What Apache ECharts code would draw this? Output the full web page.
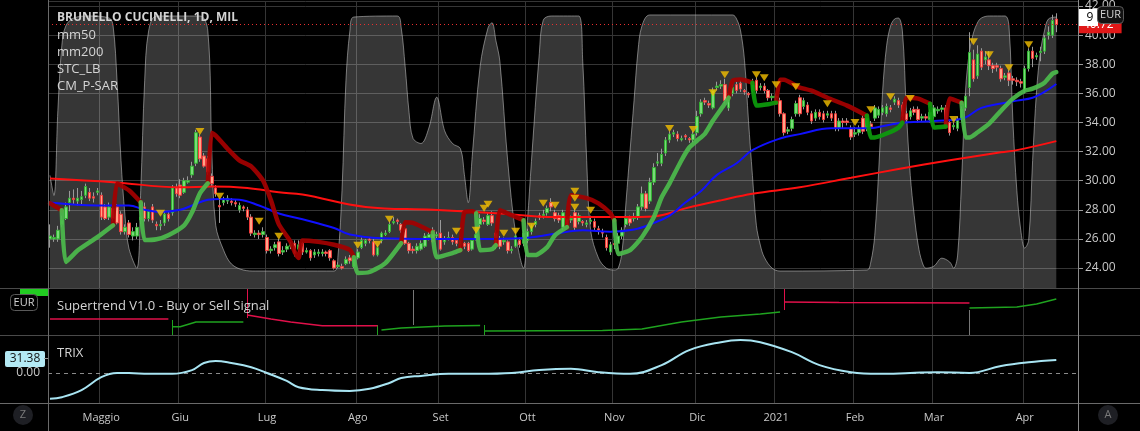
<!DOCTYPE html>
<html><head><meta charset="utf-8">
<script src="https://cdn.jsdelivr.net/npm/echarts@6.0.0/dist/echarts.min.js"></script>
<style>html,body{margin:0;padding:0;background:#000;}#c{width:1140px;height:431px;}</style>
</head><body><div id="c"></div><script>
// ---------- categories ----------
const startDate = '2020-04-14';
const barCount = 256;
const padBars = 5;
const holidays = ['2020-05-01','2020-12-24','2020-12-25','2020-12-31','2021-01-01','2021-04-02','2021-04-05'];
const monthLabels = {'2020-05':'Maggio','2020-06':'Giu','2020-07':'Lug','2020-08':'Ago','2020-09':'Set','2020-10':'Ott','2020-11':'Nov','2020-12':'Dic','2021-01':'2021','2021-02':'Feb','2021-03':'Mar','2021-04':'Apr'};
const priceTicks = [24,26,28,30,32,34,36,38,40,42];

// ---------- candles [open, close, low, high] ----------
const candlesApr2020 = [[26.0,26.2,25.4,27.0],[26.0,26.1,25.8,26.3],[26.0,26.6,25.8,26.9],[27.0,27.3,26.8,27.6],[27.4,28.2,27.3,28.5],[28.5,28.8,27.9,29.3],[28.8,28.7,28.4,29.4],[28.6,28.8,28.3,29.5],[28.7,28.9,28.4,29.3],[29.0,29.6,28.8,29.8],[29.2,28.8,28.6,29.5],[28.9,28.8,28.5,29.2],[29.2,29.3,29.0,29.5]];
const candlesMay2020 = [[29.0,27.5,27.3,29.2],[28.2,27.4,27.3,28.4],[27.5,28.2,27.3,28.5],[28.1,27.4,27.2,28.3],[28.2,27.1,27.0,28.4],[27.7,26.5,26.3,27.9],[26.5,26.8,26.3,27.0],[27.1,26.3,26.1,27.3],[26.2,26.5,25.9,26.8],[26.2,26.8,26.0,27.1],[27.3,27.5,27.0,27.8],[28.2,27.4,27.2,28.5],[27.4,27.9,27.2,28.0],[28.2,27.3,27.1,28.4],[27.0,26.9,26.6,27.2],[26.9,27.0,26.6,27.3],[27.1,27.7,26.9,27.9],[27.7,27.4,27.2,27.9],[27.8,29.5,27.6,29.7],[29.5,29.1,28.9,29.8]];
const candlesJun2020 = [[29.7,29.0,28.8,30.1],[29.2,30.0,29.1,30.2],[29.9,30.0,29.8,30.3],[30.4,31.0,30.2,31.3],[31.2,33.3,31.0,33.5],[33.0,31.5,31.3,33.2],[31.7,31.0,30.9,31.9],[31.5,30.6,30.4,31.7],[30.3,29.8,29.6,30.5],[29.5,29.1,28.9,29.7],[28.3,28.2,27.1,28.8],[28.5,28.7,28.3,28.9],[28.6,28.8,28.4,29.0],[28.6,28.5,28.3,28.8],[28.5,28.4,28.2,28.7],[28.0,28.3,27.8,28.5],[28.2,28.1,27.9,28.3],[28.0,27.5,27.3,28.2],[27.5,26.4,26.2,27.7],[26.3,26.4,26.1,26.6],[26.4,26.3,26.0,26.6],[26.3,26.5,26.1,26.8]];
const candlesJul2020 = [[26.1,25.2,25.0,26.3],[25.2,25.3,25.0,25.5],[25.4,25.6,25.2,25.8],[25.8,25.0,24.8,26.0],[25.1,25.2,24.9,25.5],[25.3,25.5,25.1,25.7],[25.5,25.6,25.3,25.8],[25.7,25.0,24.8,25.9],[25.3,25.6,25.1,25.9],[25.7,25.1,24.9,25.8],[25.1,25.2,25.0,25.4],[25.2,24.7,24.5,25.3],[24.9,25.1,24.7,25.3],[25.0,25.1,24.8,25.3],[25.0,25.1,24.8,25.3],[25.1,25.0,24.8,25.2],[25.2,24.7,24.5,25.3],[24.5,24.0,23.9,24.6],[24.1,24.2,24.0,24.4],[24.1,24.0,23.9,24.3],[24.3,24.6,24.2,24.8],[24.7,24.5,24.3,24.9],[24.1,24.7,24.0,24.9]];
const candlesAug2020 = [[24.7,25.1,24.6,25.3],[25.4,25.9,25.3,26.1],[25.7,25.9,25.5,26.0],[26.0,25.9,25.7,26.1],[25.8,24.9,24.8,26.0],[24.9,25.4,24.8,25.6],[25.9,26.4,25.7,26.5],[26.3,26.4,26.2,26.6],[26.5,27.0,26.4,27.2],[27.1,27.2,27.0,27.5],[27.3,27.2,27.0,27.4],[27.0,26.6,26.4,27.1],[26.7,25.7,25.6,26.8],[25.7,25.2,25.0,25.8],[25.3,25.2,25.0,25.5],[25.2,25.5,25.0,25.7],[25.3,25.7,25.2,25.9],[25.5,26.2,25.4,26.4],[26.1,26.3,25.9,26.5],[26.6,25.8,25.7,26.8],[26.2,26.3,26.0,26.5]];
const candlesSep2020 = [[26.4,25.3,25.2,27.3],[25.8,26.0,25.6,26.2],[26.0,26.1,25.9,26.5],[26.1,25.8,25.6,26.3],[25.9,25.7,25.5,26.0],[25.6,25.9,25.4,26.1],[25.7,25.5,25.3,25.8],[25.7,25.2,25.1,25.8],[25.3,25.9,25.2,26.0],[26.0,26.3,25.9,26.5],[27.0,27.4,26.8,27.7],[27.3,27.2,27.0,27.5],[27.0,27.6,26.9,27.8],[27.6,27.1,26.9,27.9],[26.4,25.5,25.3,26.6],[26.0,25.5,25.3,26.2],[25.8,25.9,25.6,26.1],[25.8,25.2,25.0,25.9],[25.2,25.3,25.0,25.5],[25.5,26.2,25.4,26.3],[25.9,25.6,25.4,26.1],[25.7,26.4,25.5,26.6]];
const candlesOct2020 = [[25.9,26.5,25.7,26.7],[26.5,26.9,26.3,27.0],[27.0,27.2,26.8,27.4],[27.6,27.5,27.3,27.8],[27.6,27.7,27.4,28.0],[27.8,28.1,27.6,28.3],[28.5,28.2,27.9,28.8],[27.8,27.4,27.2,28.0],[27.6,27.3,27.1,27.8],[26.8,27.8,26.6,28.0],[27.4,27.0,26.8,27.6],[27.3,27.4,27.1,27.6],[27.8,26.8,26.6,28.1],[27.2,27.6,27.0,27.8],[27.2,27.1,26.9,27.3],[27.0,27.1,26.8,27.3],[27.2,27.3,27.0,27.6],[27.2,26.8,26.6,27.4],[26.7,26.6,26.3,26.9],[26.5,26.4,26.1,26.7],[26.1,25.4,25.2,26.3],[25.1,25.6,24.9,25.8]];
const candlesNov2020 = [[25.7,25.6,25.3,25.9],[25.7,26.2,25.3,26.4],[26.2,26.6,26.0,26.8],[27.0,27.4,26.8,27.6],[27.4,27.1,26.9,27.6],[27.4,27.5,27.2,27.8],[27.5,28.2,27.3,28.4],[28.2,29.1,28.0,29.6],[29.1,28.1,27.9,29.3],[28.6,29.9,28.4,30.2],[29.9,30.9,29.7,31.2],[31.2,31.3,31.0,31.9],[31.2,31.8,31.0,32.2],[31.9,32.8,31.7,33.0],[32.8,33.2,32.6,33.4],[33.2,33.3,33.0,33.5],[33.2,32.9,32.7,33.4],[32.8,32.9,32.7,33.1],[33.1,33.0,32.8,33.2],[32.9,32.8,32.6,33.0],[32.8,33.2,32.6,33.4]];
const candlesDec2020 = [[33.3,34.4,33.1,34.8],[34.6,35.4,34.4,35.6],[35.5,35.4,35.2,35.7],[35.3,35.2,35.0,35.5],[35.0,36.2,34.9,36.4],[36.4,36.5,36.2,36.8],[36.5,36.6,36.3,36.9],[36.6,35.5,35.3,37.0],[35.0,35.8,34.8,36.0],[36.0,36.4,35.8,36.6],[36.6,36.2,36.0,36.8],[36.7,36.3,36.1,36.9],[36.2,36.1,35.9,36.3],[36.0,35.9,35.7,36.1],[36.2,36.8,36.0,37.0],[36.9,36.2,36.0,37.1],[36.4,36.5,36.2,36.7],[36.5,36.2,36.0,36.7],[36.2,35.7,35.5,36.3],[35.7,35.8,35.5,36.0]];
const candlesJan2021 = [[35.7,35.8,35.5,36.0],[35.5,34.6,34.4,35.7],[34.6,33.3,33.1,34.7],[33.4,33.5,33.2,33.7],[33.6,34.2,33.4,34.4],[34.6,35.3,34.4,35.5],[35.7,34.6,34.4,35.9],[35.1,35.5,34.9,35.7],[35.2,34.7,34.5,35.4],[34.6,34.1,33.9,34.8],[34.3,34.7,34.1,34.9],[34.7,34.4,34.2,34.9],[34.6,34.2,34.0,34.8],[34.5,34.6,34.3,34.8],[34.6,34.3,34.1,34.8],[34.6,33.6,33.4,34.8],[33.6,34.1,33.4,34.3],[34.1,34.0,33.6,34.3],[34.1,34.0,33.8,34.3],[33.6,33.0,32.8,33.8]];
const candlesFeb2021 = [[33.2,33.3,33.0,33.7],[33.3,33.6,33.1,33.8],[34.3,33.4,33.2,34.5],[33.6,34.3,33.4,34.5],[33.9,33.7,33.5,34.1],[34.3,35.0,34.1,35.2],[34.5,34.9,34.3,35.1],[34.7,35.0,34.5,35.2],[34.6,35.1,34.4,35.3],[35.0,34.9,34.7,35.2],[35.4,35.6,35.2,35.8],[35.5,35.2,35.0,35.7],[35.2,34.4,34.2,35.4],[34.6,34.2,34.0,34.8],[34.4,34.8,34.2,35.0],[34.9,34.7,34.5,35.1],[34.9,34.2,34.0,35.1],[34.3,34.4,34.1,34.6],[34.4,34.3,34.1,34.6],[34.2,34.7,34.0,34.9]];
const candlesMar2021 = [[34.4,35.0,34.2,35.2],[34.8,34.9,34.6,35.1],[34.9,35.0,34.7,35.2],[35.0,33.8,33.6,35.2],[34.0,33.3,33.1,34.2],[33.7,33.8,33.5,34.0],[33.6,34.2,33.4,34.4],[34.3,34.9,34.1,35.1],[35.0,35.8,34.8,36.0],[36.4,38.8,35.8,40.2],[38.3,37.0,36.8,39.0],[37.2,38.7,37.0,39.3],[38.9,37.8,37.6,39.1],[38.3,38.5,38.0,38.9],[38.3,37.9,37.6,38.9],[37.9,37.7,37.4,38.1],[37.9,37.8,37.5,38.1],[37.7,37.0,36.8,37.9],[37.1,37.2,36.9,37.4],[37.4,36.9,36.5,37.6],[37.0,36.9,36.6,37.2],[36.9,36.8,36.5,37.1],[36.8,36.7,36.4,37.0]];
const candlesApr2021 = [[36.2,37.7,36.0,37.9],[37.7,38.9,37.5,39.1],[38.9,38.4,37.8,39.2],[38.5,38.6,38.3,38.8],[38.8,38.9,38.2,39.2],[38.9,39.8,38.7,40.0],[40.0,40.2,39.7,40.6],[40.0,41.0,39.8,41.4],[41.1,40.72,40.2,41.5]];

// ---------- moving averages [barIndex, value] ----------
const mm50 = [[0,28.5],[12,28.3],[20,28.3],[24,28.0],[28,27.85],[33,28.0],[36,28.3],[40,28.7],[43,28.75],[48,28.7],[53,28.3],[58,27.75],[64,27.35],[72,26.75],[76,26.3],[84,26.05],[97,26.0],[110,26.0],[119,26.05],[128,26.35],[135,26.6],[142,26.5],[148,26.65],[153,27.1],[157,27.6],[161,28.5],[165,29.3],[169,30.4],[174,31.2],[178,32.1],[185,32.9],[190,33.2],[198,33.6],[207,33.6],[215,33.95],[224,34.1],[231,34.25],[236,35.0],[241,35.3],[245,35.5],[249,35.7],[252,36.1],[255,36.64]];
const mm200 = [[0,30.15],[16,29.9],[33,29.55],[41,29.6],[50,29.5],[58,29.2],[64,29.05],[80,28.2],[97,28.0],[114,27.75],[128,27.5],[145,27.5],[153,27.55],[161,28.1],[170,28.65],[178,29.1],[190,29.55],[203,30.2],[215,30.8],[228,31.4],[241,31.95],[245,32.1],[255,32.72]];

// ---------- STC_LB oscillator (0..100) ----------
const stc = [[0,37.6],[1,29.8],[2,62.8],[3,88],[4,95.7],[6,98.8],[10,99.6],[15,98.8],[16,95.7],[17,74.4],[18,43.4],[19,22.1],[20,9.3],[22,1.5],[23,31.8],[24,74.4],[25,93.8],[27,99.6],[38,99.6],[40,93.8],[41,47.3],[42,18.2],[44,8.5],[46,3.1],[49,0.8],[52,0.4],[72,0.4],[73,6.6],[74,31.8],[75,74.4],[76,93.8],[77,99.2],[88,99.6],[89,95],[90,80],[91,62],[92,52],[94,50],[96,56],[98,68],[100,55],[102,50],[104,48],[105,38],[106,27],[107,45],[109,80],[111,95],[112,97],[113,90],[114,82],[116,43],[118,15],[120,1.5],[121,20],[122,43],[124,85],[125,98],[127,99.6],[134,99.6],[135,82],[136,43.4],[137,16.3],[139,5.4],[141,1.5],[143,0.8],[144,1.5],[145,8.5],[146,27.9],[147,47.3],[148,66.7],[149,86],[150,95.7],[152,100],[173,100],[174,98.4],[175,93.8],[176,82.2],[177,58.9],[178,37.6],[179,18.2],[180,10.5],[181,5.8],[183,1.5],[185,0.4],[207,0.8],[208,3.9],[209,14.3],[210,39.5],[211,70.5],[212,88],[213,95.7],[214,98.4],[215,98.8],[216,93.8],[217,62.8],[218,37.6],[219,22.1],[220,10.5],[221,3.9],[222,1.5],[224,2.3],[226,5.4],[228,3.9],[229,1.5],[230,6.6],[231,35.7],[232,70.5],[233,86],[234,93],[235,96.9],[236,98.8],[238,99.6],[242,99.6],[243,95.7],[244,58.9],[245,31.8],[246,16.3],[247,9.3],[248,12.4],[249,43.4],[250,70.5],[251,86],[252,93.8],[253,98.4],[255,99.2]];

// ---------- CM_P-SAR trailing line segments ----------
const trailDown = [
 [[0,28.45],[3,27.97]],
 [[16,26.94],[17,29.8],[20,29.34],[23,28.52]],
 [[40,29.82],[41,33.3],[42,33.1],[45,32.2],[48,31.4],[51,30.98],[54,30.0],[56,28.65],[58,27.0],[61,25.8],[62,25.1],[63,24.7],[64,25.9],[68,25.8],[72,25.6],[76,25.25],[77,24.75]],
 [[89,25.7],[90,27.15],[92,27.1],[96,26.6],[97,26.46]],
 [[104,25.23],[105,27.83],[107,27.9],[108,27.76]],
 [[113,25.57],[114,27.97],[117,27.63],[120,27.29]],
 [[131,26.81],[132,29.0],[136,28.8],[139,28.45],[142,27.76],[143,27.29]],
 [[172,35.7],[173,36.87],[175,36.95],[178,36.73]],
 [[184,35.36],[185,36.94],[186,36.94],[189,36.53],[190,36.4],[193,36.18],[197,35.7],[202,35.16],[207,34.47]],
 [[216,33.99],[217,35.7],[220,35.64],[223,35.29]],
 [[227,33.72],[228,35.64],[231,35.36]]
];
const trailUp = [
 [[3,27.97],[4,24.41],[7,25.2],[12,26.12],[16,26.94]],
 [[23,28.52],[24,25.92],[27,25.98],[30,26.26],[34,26.94],[36,27.83],[38,29.13],[40,29.82]],
 [[77,24.75],[78,23.66],[81,23.73],[85,24.34],[89,25.71]],
 [[97,26.46],[98,24.75],[102,25.03],[104,25.23]],
 [[108,27.76],[109,25.23],[112,25.3],[113,25.57]],
 [[120,27.29],[121,24.89],[123,24.89],[126,25.44],[128,26.26],[131,26.81]],
 [[143,27.29],[144,24.96],[147,25.23],[150,26.12],[153,27.49],[155,28.86],[157,29.82],[160,31.39],[162,32.28],[164,32.76],[166,33.24],[168,34.13],[171,35.29],[172,35.7]],
 [[178,36.73],[179,35.16],[182,35.25],[184,35.36]],
 [[207,34.47],[208,32.97],[209,32.97],[212,33.24],[215,33.65],[216,33.99]],
 [[223,35.29],[224,33.65],[227,33.72]],
 [[231,35.36],[232,32.97],[233,32.97],[235,33.31],[238,33.92],[241,34.81],[244,35.64],[247,36.18],[249,36.32],[252,36.73],[254,37.35],[255,37.46]]
];
const trailUpDark = [false,false,false,false,false,false,false,true,true,true,false];
const sarSignals = [[28,27.76],[38,33.38],[43,28.93],[53,27.22],[58,26.19],[78,25.57],[83,25.64],[86,27.35],[103,26.53],[108,26.6],[110,28.1],[111,28.38],[115,26.4],[118,26.53],[122,26.87],[125,28.45],[128,28.31],[133,29.27],[133,28.79],[133,28.18],[137,27.97],[157,33.58],[163,33.51],[168,36.05],[171,37.28],[179,37.28],[181,37.07],[184,36.59],[189,36.46],[197,35.29],[204,33.99],[208,34.88],[213,35.77],[218,35.64],[229,34.2],[234,39.54],[238,38.65],[243,37.76],[248,39.33]];

// ---------- Supertrend pane ----------
const stSell = [
 [[0,16],[30,16]],
 [[50,20],[56,16],[61,13],[69,9.3],[83,9.3]],
 [[186,33],[200,32.5],[233,32]]
];
const stBuy = [
 [[31,8.3],[33,8.3],[37,13],[49,13]],
 [[84,5],[89,7],[100,9],[109,9.5]],
 [[110,4],[140,4.5],[150,6],[160,13],[170,18],[180,21],[185,23]],
 [[233,27],[245,28],[250,31],[255,36]]
];
const stMarks = [[31,0,15,'#1fa31f'],[50,17,47,'#e0104a'],[83,0,10,'#1fa31f'],[92,10,45,'#777777'],[110,0,10,'#1fa31f'],[186,25,47,'#e0104a'],[233,0,25,'#777777']];

// ---------- TRIX ----------
const trix = [[0,-62],[3,-58],[8,-41],[13,-10],[17,0],[20,0],[25,-2],[31,-2],[36,7],[39,24],[42,29],[46,24],[51,14],[55,0],[60,-19],[63,-34],[69,-41],[76,-43],[81,-38],[86,-24],[89,-12],[94,-7],[101,-2],[109,-2],[117,0],[124,7],[132,10],[139,2],[147,-2],[155,19],[162,55],[170,74],[175,79],[180,74],[188,50],[195,19],[203,2],[210,-2],[218,0],[225,2],[233,0],[241,17],[248,26],[255,31.38]];

// ---------- build ----------
const holidaySet = new Set(holidays);
function buildDates(start, n) {
  const out = [];
  const d = new Date(start + 'T00:00:00Z');
  while (out.length < n) {
    const wd = d.getUTCDay();
    const s = d.toISOString().slice(0, 10);
    if (wd !== 0 && wd !== 6 && !holidaySet.has(s)) out.push(s);
    d.setUTCDate(d.getUTCDate() + 1);
  }
  return out;
}
const dates = buildDates(startDate, barCount + padBars);
const candles = [].concat(candlesApr2020, candlesMay2020, candlesJun2020, candlesJul2020, candlesAug2020, candlesSep2020, candlesOct2020, candlesNov2020, candlesDec2020, candlesJan2021, candlesFeb2021, candlesMar2021, candlesApr2021);
const bodies = candles.map(c => [c[0], c[1], Math.min(c[0], c[1]), Math.max(c[0], c[1])]);
const isMonthStart = (idx) => idx > 0 && dates[idx].slice(0, 7) !== dates[idx - 1].slice(0, 7);
const lastClose = candles[candles.length - 1][1];

const FONT = 'Open Sans';
const GRID_C = '#353535';
const SEP_C = '#4a4a4a';

function xAxisFor(gridIndex, showLabels) {
  return {
    type: 'category', gridIndex, data: dates, boundaryGap: true,
    axisLine: {show: false}, axisTick: {show: false},
    axisLabel: showLabels ? {
      show: true, interval: (i) => isMonthStart(i), color: '#c8c8c8', fontSize: 11, fontFamily: FONT, margin: 9,
      formatter: (v) => monthLabels[v.slice(0, 7)] || ''
    } : {show: false},
    splitLine: {show: true, interval: (i) => isMonthStart(i), lineStyle: {color: GRID_C, width: 1}}
  };
}

const series = [];
series.push({
  name: 'STC_LB', type: 'line', xAxisIndex: 0, yAxisIndex: 1, data: stc, smooth: 0.35, symbol: 'none',
  lineStyle: {color: 'rgba(200,200,200,0.55)', width: 1},
  areaStyle: {color: 'rgba(255,255,255,0.3)', origin: 'start'}, z: 1, silent: true
});
series.push({
  name: 'wicks', type: 'candlestick', xAxisIndex: 0, yAxisIndex: 0, data: candles, barWidth: 1,
  itemStyle: {color: '#9a9a9a', color0: '#9a9a9a', borderColor: '#9a9a9a', borderColor0: '#9a9a9a', borderWidth: 1}, z: 3
});
series.push({
  name: 'BRUNELLO CUCINELLI', type: 'candlestick', xAxisIndex: 0, yAxisIndex: 0, data: bodies, barWidth: 3,
  itemStyle: {color: '#78dc78', color0: '#ffa488', borderColor: '#33b033', borderColor0: '#ee3b3b', borderWidth: 1}, z: 4,
  markLine: {
    silent: true, symbol: 'none', animation: false,
    lineStyle: {color: '#e83030', type: [1, 3], width: 1},
    label: {position: 'end', distance: 1, formatter: () => lastClose.toFixed(2), backgroundColor: '#e01818', color: '#fff', padding: [3, 8, 2, 4], fontSize: 12, fontFamily: FONT},
    data: [{yAxis: lastClose}]
  }
});
function tagLine(value, bg, fg) {
  return {
    silent: true, symbol: 'none', animation: false,
    lineStyle: {opacity: 0},
    label: {position: 'end', distance: 1, formatter: () => value.toFixed(2), backgroundColor: bg, color: fg, padding: [2, 4, 1, 4], fontSize: 12, fontFamily: FONT, borderRadius: 2},
    data: [{yAxis: value}]
  };
}
series.push({name: 'mm200', type: 'line', xAxisIndex: 0, yAxisIndex: 0, data: mm200, smooth: 0.4, symbol: 'none', lineStyle: {color: '#ff1010', width: 2}, z: 5, markLine: tagLine(mm200[mm200.length - 1][1], '#ff0000', '#ffffff')});
series.push({name: 'mm50', type: 'line', xAxisIndex: 0, yAxisIndex: 0, data: mm50, smooth: 0.4, symbol: 'none', lineStyle: {color: '#1010ff', width: 2}, z: 6, markLine: tagLine(mm50[mm50.length - 1][1], '#0000ff', '#ffffff')});
trailDown.forEach((seg) => series.push({type: 'line', xAxisIndex: 0, yAxisIndex: 0, data: seg, symbol: 'none', smooth: 0.2, lineStyle: {color: '#a40000', width: 4.5, cap: 'round', join: 'round', opacity: 0.92}, z: 7}));
trailUp.forEach((seg, k) => {
  const last = k === trailUp.length - 1;
  series.push({type: 'line', xAxisIndex: 0, yAxisIndex: 0, data: seg, symbol: 'none', smooth: 0.2,
    lineStyle: {color: trailUpDark[k] ? '#0c9c0c' : '#4cbb4c', width: 4.5, cap: 'round', join: 'round', opacity: 0.92}, z: 7,
    markLine: last ? tagLine(seg[seg.length - 1][1], '#00ff00', '#000000') : undefined});
});
series.push({name: 'signals', type: 'scatter', xAxisIndex: 0, yAxisIndex: 0, data: sarSignals, symbol: 'triangle', symbolRotate: 180, symbolSize: [9, 7], itemStyle: {color: '#f5c000'}, z: 8});

stSell.forEach((seg) => series.push({type: 'line', xAxisIndex: 1, yAxisIndex: 2, data: seg, symbol: 'none', lineStyle: {color: '#e0104a', width: 1.5}, z: 5}));
stBuy.forEach((seg) => series.push({type: 'line', xAxisIndex: 1, yAxisIndex: 2, data: seg, symbol: 'none', lineStyle: {color: '#1fa31f', width: 1.5}, z: 5}));
series.push({type: 'line', xAxisIndex: 1, yAxisIndex: 2, data: [], symbol: 'none',
  markLine: {silent: true, symbol: 'none', animation: false, label: {show: false},
    data: stMarks.map(m => [{coord: [m[0], m[1]], lineStyle: {color: m[3], width: 1, type: 'solid'}}, {coord: [m[0], m[2]]}])}});

series.push({name: 'TRIX', type: 'line', xAxisIndex: 2, yAxisIndex: 3, data: trix, smooth: 0.4, symbol: 'none', lineStyle: {color: '#a8e4f2', width: 2}, z: 5,
  markLine: {silent: true, symbol: 'none', animation: false, label: {show: false}, lineStyle: {color: '#8a8a8a', type: [4, 4], width: 1}, data: [{yAxis: 0}]}});

const option = {
  backgroundColor: '#000000',
  animation: false,
  textStyle: {fontFamily: FONT},
  grid: [
    {left: 48, right: 62, top: 0, height: 288},
    {left: 48, right: 62, top: 288, height: 47},
    {left: 48, right: 62, top: 335, height: 68}
  ],
  xAxis: [xAxisFor(0, false), xAxisFor(1, false), xAxisFor(2, true)],
  yAxis: [
    {type: 'value', gridIndex: 0, position: 'right', min: 22.631, max: 42.342, splitNumber: 10, scale: true,
      axisLine: {show: false}, axisTick: {show: true, length: 5, lineStyle: {color: '#9a9a9a'}},
      axisLabel: {color: '#c8c8c8', fontSize: 12, fontFamily: FONT, margin: 7, showMinLabel: false, showMaxLabel: false,
        formatter: (v) => priceTicks.indexOf(Math.round(v * 100) / 100) >= 0 ? v.toFixed(2) : ''},
      splitLine: {show: true, lineStyle: {color: GRID_C, width: 1}}},
    {type: 'value', gridIndex: 0, show: false, min: -6.2, max: 105.43},
    {type: 'value', gridIndex: 1, show: false, min: 0, max: 47},
    {type: 'value', gridIndex: 2, show: false, min: -72, max: 91.2}
  ],
  series,
  graphic: [
    {type: 'line', shape: {x1: 0, y1: 288.5, x2: 1140, y2: 288.5}, style: {stroke: SEP_C, lineWidth: 1}, z: 50},
    {type: 'line', shape: {x1: 0, y1: 335.5, x2: 1140, y2: 335.5}, style: {stroke: SEP_C, lineWidth: 1}, z: 50},
    {type: 'line', shape: {x1: 0, y1: 403.5, x2: 1140, y2: 403.5}, style: {stroke: '#6a6a6a', lineWidth: 1}, z: 50},
    {type: 'line', shape: {x1: 48.5, y1: 0, x2: 48.5, y2: 431}, style: {stroke: '#6a6a6a', lineWidth: 1}, z: 50},
    {type: 'line', shape: {x1: 1078.5, y1: 0, x2: 1078.5, y2: 431}, style: {stroke: '#8a8a8a', lineWidth: 1}, z: 50},
    {type: 'text', left: 57, top: 12, style: {text: 'BRUNELLO CUCINELLI, 1D, MIL', fill: '#d4d4d4', font: 'bold 12px "Open Sans"'}, z: 60},
    {type: 'text', left: 57, top: 29, style: {text: 'mm50', fill: '#d4d4d4', font: '13px "Open Sans"'}, z: 60},
    {type: 'text', left: 57, top: 46, style: {text: 'mm200', fill: '#d4d4d4', font: '13px "Open Sans"'}, z: 60},
    {type: 'text', left: 57, top: 63, style: {text: 'STC_LB', fill: '#d4d4d4', font: '13px "Open Sans"'}, z: 60},
    {type: 'text', left: 57, top: 80, style: {text: 'CM_P-SAR', fill: '#d4d4d4', font: '13px "Open Sans"'}, z: 60},
    {type: 'text', left: 57, top: 300, style: {text: 'Supertrend V1.0 - Buy or Sell Signal', fill: '#d4d4d4', font: '13px "Open Sans"'}, z: 60},
    {type: 'text', left: 57, top: 347, style: {text: 'TRIX', fill: '#d4d4d4', font: '13px "Open Sans"'}, z: 60},
    {type: 'rect', shape: {x: 20, y: 289, width: 28, height: 7}, style: {fill: '#22cc22'}, z: 55},
    {type: 'rect', shape: {x: 10.5, y: 294.5, width: 27, height: 16, r: 4}, style: {fill: '#000', stroke: '#5a5a5a', lineWidth: 1}, z: 56},
    {type: 'text', x: 24, y: 303, style: {text: 'EUR', fill: '#d4d4d4', font: '11px "Open Sans"', align: 'center', verticalAlign: 'middle'}, z: 57},
    {type: 'rect', shape: {x: 5, y: 351, width: 40, height: 16, r: 2}, style: {fill: '#b4e9f4'}, z: 55},
    {type: 'line', shape: {x1: 44, y1: 358.5, x2: 48, y2: 358.5}, style: {stroke: '#9a9a9a', lineWidth: 1}, z: 55},
    {type: 'text', x: 25, y: 359, style: {text: '31.38', fill: '#131313', font: '12px "Open Sans"', align: 'center', verticalAlign: 'middle'}, z: 57},
    {type: 'text', x: 40, y: 373, style: {text: '0.00', fill: '#c8c8c8', font: '12px "Open Sans"', align: 'right', verticalAlign: 'middle'}, z: 57},
    {type: 'rect', shape: {x: 1079, y: 9, width: 19, height: 17}, style: {fill: '#ffffff'}, z: 58},
    {type: 'text', x: 1090, y: 18, style: {text: '9', fill: '#000', font: '12px "Open Sans"', align: 'center', verticalAlign: 'middle'}, z: 59},
    {type: 'rect', shape: {x: 1097.5, y: 6.5, width: 26, height: 17, r: 4}, style: {fill: '#121212', stroke: '#5a5a5a', lineWidth: 1}, z: 60},
    {type: 'text', x: 1110.5, y: 15, style: {text: 'EUR', fill: '#d4d4d4', font: '11px "Open Sans"', align: 'center', verticalAlign: 'middle'}, z: 61},
    {type: 'circle', shape: {cx: 23, cy: 415, r: 10}, style: {fill: '#1e1f24'}, z: 55},
    {type: 'text', x: 23, y: 415, style: {text: 'Z', fill: '#7a7a7a', font: '11px "Open Sans"', align: 'center', verticalAlign: 'middle'}, z: 56},
    {type: 'circle', shape: {cx: 1108, cy: 415, r: 10}, style: {fill: '#1e1f24'}, z: 55},
    {type: 'text', x: 1108, y: 415, style: {text: 'A', fill: '#7a7a7a', font: '11px "Open Sans"', align: 'center', verticalAlign: 'middle'}, z: 56}
  ]
};
const chart = echarts.init(document.getElementById('c'), null, {renderer: 'canvas'});
chart.setOption(option);
</script></body></html>
